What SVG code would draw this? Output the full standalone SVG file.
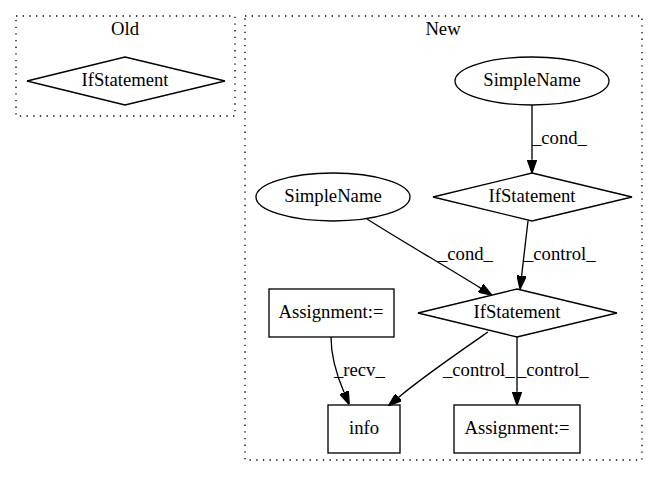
<svg xmlns="http://www.w3.org/2000/svg" width="657" height="480" viewBox="0 0 657 480">
<style>
text{font-family:"Liberation Serif","Times New Roman",serif;font-size:18.67px;fill:#000}
.c{text-anchor:middle}
.cl{fill:none;stroke:#000;stroke-width:1.33;stroke-dasharray:1.33,5.33}
.n{fill:none;stroke:#000;stroke-width:1.33}
.e{fill:none;stroke:#000;stroke-width:1.33}
</style>
<defs>
<marker id="ah" viewBox="0 0 10 7" refX="0" refY="3.5" markerWidth="13.3" markerHeight="9.3" markerUnits="userSpaceOnUse" orient="auto">
<path d="M0,0 L10,3.5 L0,7 z" fill="#000" stroke="#000" stroke-width="1"/>
</marker>
</defs>
<rect width="657" height="480" fill="#fff"/>
<g id="cluster_old">
<rect class="cl" x="16" y="16" width="219" height="100"/>
<text class="c" x="125" y="35">Old</text>
</g>
<g id="cluster_new">
<rect class="cl" x="245" y="16" width="397" height="444"/>
<text class="c" x="443" y="35">New</text>
</g>
<g id="old_if">
<polygon class="n" points="125,57 225,81 125,105 27,81"/>
<text class="c" x="125" y="86">IfStatement</text>
</g>
<g id="sn_top">
<ellipse class="n" cx="532" cy="81" rx="77" ry="24"/>
<text class="c" x="532" y="86">SimpleName</text>
</g>
<g id="if_mid">
<polygon class="n" points="532,173 632,197 532,221 433,197"/>
<text class="c" x="532" y="202">IfStatement</text>
</g>
<g id="sn_left">
<ellipse class="n" cx="333" cy="197" rx="77" ry="24"/>
<text class="c" x="333" y="202">SimpleName</text>
</g>
<g id="if_low">
<polygon class="n" points="517,289 617,313 517,337 418,313"/>
<text class="c" x="517" y="318">IfStatement</text>
</g>
<g id="assign_left">
<rect class="n" x="269" y="289" width="125" height="48"/>
<text class="c" x="331" y="318">Assignment:=</text>
</g>
<g id="info">
<rect class="n" x="328" y="405" width="72" height="48"/>
<text class="c" x="364" y="434">info</text>
</g>
<g id="assign_right">
<rect class="n" x="454" y="405" width="126" height="48"/>
<text class="c" x="517" y="434">Assignment:=</text>
</g>
<g id="edges">
<path class="e" d="M532,105 L532,159.7" marker-end="url(#ah)"/>
<text x="532" y="144">_cond_</text>
<path class="e" d="M367,219 C400,240 445,266 480.6,288.1" marker-end="url(#ah)"/>
<text x="438" y="260">_cond_</text>
<path class="e" d="M528,221 L521.6,275.8" marker-end="url(#ah)"/>
<text x="524" y="260">_control_</text>
<path class="e" d="M331,337 C331,358 337,376 344,392.3" marker-end="url(#ah)"/>
<text x="334" y="376">_recv_</text>
<path class="e" d="M488,332 C462,350 424,376 398.7,397.2" marker-end="url(#ah)"/>
<text x="443" y="376">_control_</text>
<path class="e" d="M517,337 L517,391.7" marker-end="url(#ah)"/>
<text x="517" y="376">_control_</text>
</g>
</svg>
